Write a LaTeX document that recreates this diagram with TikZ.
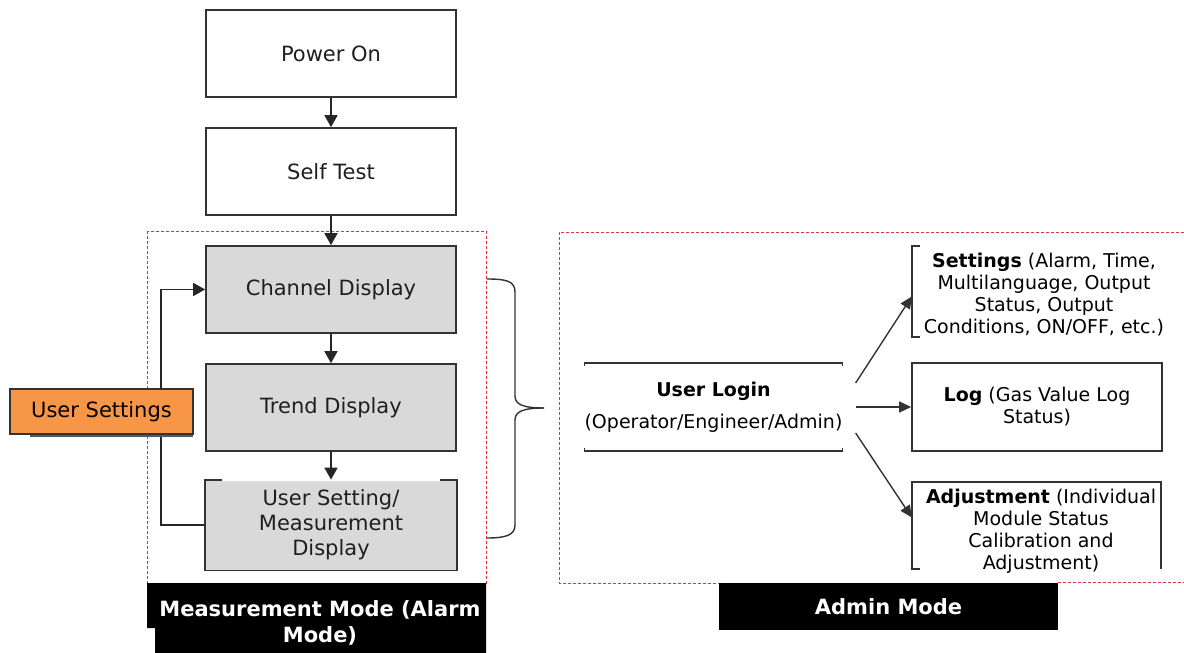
\documentclass[tikz,border=0pt]{standalone}
\usepackage{fontspec}
\setmainfont{DejaVu Sans}
\usetikzlibrary{arrows.meta}
\definecolor{boxgray}{RGB}{217,217,217}
\definecolor{orangeF}{RGB}{247,150,70}
\definecolor{dashred}{RGB}{225,50,60}
\begin{document}
\begin{tikzpicture}[x=1pt,y=-1pt,
  lt/.style={font=\fontsize{21}{25}\selectfont, text=black!88},
  admt/.style={font=\fontsize{19}{22}\selectfont, text=black},
  plainbox/.style={draw=black!80, line width=1.7pt, fill=white, minimum width=250pt, minimum height=87pt, inner sep=0pt, lt},
  graybox/.style={plainbox, fill=boxgray},
  conn/.style={line width=1.6pt, draw=black!85, -{Triangle[width=13pt,length=12pt]}},
  aconn/.style={line width=1.4pt, draw=black!80, -{Triangle[width=11pt,length=12pt]}},
  reddash/.style={draw=dashred, line width=1pt, dash pattern=on 3pt off 2pt},
  edge/.style={draw=black!80, line width=1.6pt},
  whitebold/.style={text=white, font=\fontsize{21}{26}\selectfont\bfseries}
]
\useasboundingbox (0,0) rectangle (1184,653);

% dashed mode frames
\draw[reddash] (147,231) rectangle (486,583);
\draw[reddash] (1184,232) -- (559,232) -- (559,583) -- (719,583);
\draw[reddash] (1058,582) -- (1184,582);

% left column
\node[plainbox] (power) at (331,53.5) {Power On};
\node[plainbox] (self) at (331,171.5) {Self Test};
\node[graybox] (chan) at (331,289.5) {Channel Display};
\node[graybox] (trend) at (331,407.5) {Trend Display};
\node[graybox, draw=none, minimum height=89pt, align=center] (usd) at (331,525) {User Setting/\\Measurement\\Display};
\draw[edge, line width=1.7pt] ([xshift=17pt]usd.north west) -- (usd.north west) -- (usd.south west) -- (usd.south east) -- (usd.north east) -- ([xshift=-17pt]usd.north east);

\draw[conn] (power) -- (self);
\draw[conn] (self) -- (chan);
\draw[conn] (chan) -- (trend);
\draw[conn] (trend) -- (usd);
\draw[conn] (usd.west) -- ++(-44,0) |- (chan.west);

% user settings tag
\fill[black!65] (30,392) rectangle (193,437);
\node[draw=black!80, line width=1.2pt, fill=orangeF, minimum width=183pt, minimum height=45pt, inner sep=0pt, lt, text=black] (us) at (101.5,411.5) {User Settings};

% brace
\draw[edge, line width=1.4pt] (487,279) .. controls (506,279) and (515,281) .. (515,292) -- (515,396) .. controls (515,404) and (522,408) .. (544,408);
\draw[edge, line width=1.4pt] (544,408) .. controls (522,408) and (515,412) .. (515,420) -- (515,525) .. controls (515,535) and (506,538) .. (487,538);

% labels
\fill[black] (147,583) -- (486,583) -- (486,653) -- (155,653) -- (155,628) -- (147,628) -- cycle;
\node[whitebold, align=center] (mmlabel) at (320,623) {Measurement Mode (Alarm\\Mode)};
\node[fill=black, minimum width=339pt, minimum height=47pt, inner sep=0pt, whitebold] (amlabel) at (888.5,606.5) {Admin Mode};

% admin side
\node[admt, minimum width=251pt, minimum height=88pt, inner sep=0pt, align=center] (login) at (713.5,407) {\textbf{User Login}\\[10pt](Operator/Engineer/Admin)};
\draw[edge] ([yshift=-3pt]login.north west) -- (login.north west) -- (login.north east) -- ([yshift=-3pt]login.north east);
\draw[edge] ([yshift=3pt]login.south west) -- (login.south west) -- (login.south east) -- ([yshift=3pt]login.south east);

\node[minimum width=250pt, minimum height=91pt, inner sep=0pt] (settings) at (1037,291.5) {};
\draw[edge] ([xshift=8pt]settings.north west) -- (settings.north west) -- (settings.south west) -- ([xshift=8pt]settings.south west);
\node[admt, align=center] (settingstext) at (1044,295) {\textbf{Settings} (Alarm, Time,\\Multilanguage, Output\\Status, Output\\Conditions, ON/OFF, etc.)};

\node[draw=black!80, line width=1.6pt, minimum width=250pt, minimum height=88pt, inner sep=0pt, admt, align=center] (log) at (1037,407) {\textbf{Log} (Gas Value Log\\Status)};

\node[minimum width=249pt, minimum height=87pt, inner sep=0pt] (adj) at (1036.5,525.5) {};
\draw[edge] ([xshift=8pt]adj.south west) -- (adj.south west) -- (adj.north west) -- (adj.north east) -- (adj.south east);
\node[admt, align=center] (adjtext) at (1041,531) {\textbf{Adjustment} (Individual\\Module Status\\Calibration and\\Adjustment)};

\draw[aconn] ([xshift=13pt,yshift=24pt]login.east) -- ([yshift=-5pt]settings.west);
\draw[aconn] ([xshift=13pt]login.east) -- (log.west);
\draw[aconn] ([xshift=13pt,yshift=-26pt]login.east) -- ([yshift=8pt]adj.west);
\end{tikzpicture}
\end{document}
